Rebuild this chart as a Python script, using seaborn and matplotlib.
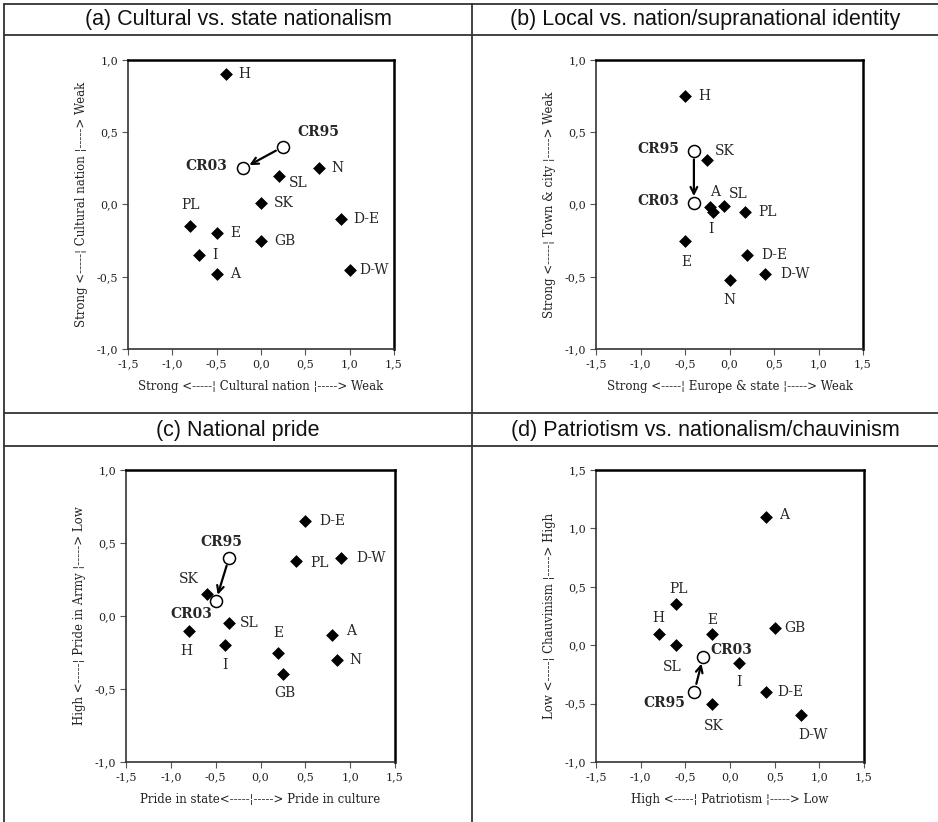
import matplotlib
matplotlib.use("Agg")
import matplotlib.pyplot as plt
from matplotlib.lines import Line2D
import seaborn as sns
import pandas as pd

sns.set_theme(style="white")
plt.rcParams['font.family'] = ['DejaVu Serif']

# ---------------- data ----------------
# (a) Cultural vs. state nationalism
a_countries = ["H", "SL", "N", "SK", "PL", "E", "GB", "D-E", "I", "A", "D-W"]
a_x = [-0.40, 0.20, 0.65, 0.00, -0.80, -0.50, 0.00, 0.90, -0.70, -0.50, 1.00]
a_y = [0.90, 0.20, 0.25, 0.01, -0.15, -0.20, -0.25, -0.10, -0.35, -0.48, -0.45]
a_cr95 = (0.25, 0.40)
a_cr03 = (-0.20, 0.25)

# (b) Local vs. nation/supranational identity
b_countries = ["H", "SK", "A", "I", "SL", "PL", "E", "D-E", "D-W", "N"]
b_x = [-0.50, -0.25, -0.22, -0.18, -0.06, 0.17, -0.50, 0.20, 0.40, 0.00]
b_y = [0.75, 0.31, -0.02, -0.05, -0.01, -0.05, -0.25, -0.35, -0.48, -0.52]
b_cr95 = (-0.40, 0.37)
b_cr03 = (-0.40, 0.01)

# (c) National pride
c_countries = ["D-E", "PL", "D-W", "SK", "SL", "H", "I", "E", "GB", "A", "N"]
c_x = [0.50, 0.40, 0.90, -0.60, -0.35, -0.80, -0.40, 0.20, 0.25, 0.80, 0.85]
c_y = [0.65, 0.38, 0.40, 0.15, -0.05, -0.10, -0.20, -0.25, -0.40, -0.13, -0.30]
c_cr95 = (-0.35, 0.40)
c_cr03 = (-0.50, 0.10)

# (d) Patriotism vs. nationalism/chauvinism
d_countries = ["A", "PL", "H", "E", "GB", "SL", "I", "D-E", "SK", "D-W"]
d_x = [0.40, -0.60, -0.80, -0.20, 0.50, -0.60, 0.10, 0.40, -0.20, 0.80]
d_y = [1.10, 0.35, 0.10, 0.10, 0.15, 0.00, -0.15, -0.40, -0.50, -0.60]
d_cr95 = (-0.40, -0.40)
d_cr03 = (-0.30, -0.10)

titles = ["(a) Cultural vs. state nationalism",
          "(b) Local vs. nation/supranational identity",
          "(c) National pride",
          "(d) Patriotism vs. nationalism/chauvinism"]
xlabels = ["Strong <-----\u00a6 Cultural nation \u00a6-----> Weak",
           "Strong <-----\u00a6 Europe & state \u00a6-----> Weak",
           "Pride in state<-----\u00a6-----> Pride in culture",
           "High <-----\u00a6 Patriotism \u00a6-----> Low"]
ylabels = ["Strong <-----\u00a6 Cultural nation \u00a6-----> Weak",
           "Strong <-----\u00a6 Town & city \u00a6-----> Weak",
           "High <-----\u00a6 Pride in Army \u00a6-----> Low",
           "Low <-----\u00a6 Chauvinism \u00a6-----> High"]
x_ticks = [-1.5, -1.0, -0.5, 0.0, 0.5, 1.0, 1.5]
y_ticks_abc = [-1.0, -0.5, 0.0, 0.5, 1.0]
y_ticks_d = [-1.0, -0.5, 0.0, 0.5, 1.0, 1.5]

# ------------- label placement (pixel offsets, alignment) -------------
a_off = {"H": (13, 0, "left"), "SL": (10, -7, "left"), "N": (13, 0, "left"),
         "SK": (13, 0, "left"), "PL": (0, 21, "center"), "E": (14, 0, "left"),
         "GB": (13, 0, "left"), "D-E": (12, 0, "left"), "I": (13, 0, "left"),
         "A": (13, 0, "left"), "D-W": (10, 0, "left"),
         "CR95": (14, 15, "left"), "CR03": (-16, 2, "right")}
b_off = {"H": (13, 0, "left"), "SK": (8, 9, "left"), "A": (5, 15, "center"),
         "I": (-3, -17, "center"), "SL": (5, 12, "left"), "PL": (14, 0, "left"),
         "E": (1, -21, "center"), "D-E": (14, 0, "left"), "D-W": (15, 0, "left"),
         "N": (0, -20, "center"),
         "CR95": (-15, 2, "right"), "CR03": (-15, 2, "right")}
c_off = {"D-E": (14, 0, "left"), "PL": (14, -2, "left"), "D-W": (15, 0, "left"),
         "SK": (-18, 15, "center"), "SL": (11, 0, "left"), "H": (-2, -20, "center"),
         "I": (0, -20, "center"), "E": (0, 20, "center"), "GB": (2, -19, "center"),
         "A": (14, 4, "left"), "N": (13, 0, "left"),
         "CR95": (-8, 16, "center"), "CR03": (-24, -13, "center")}
d_off = {"A": (13, 2, "left"), "PL": (2, 15, "center"), "H": (0, 16, "center"),
         "E": (0, 14, "center"), "GB": (10, 0, "left"), "SL": (-4, -22, "center"),
         "I": (0, -19, "center"), "D-E": (12, 0, "left"), "SK": (2, -22, "center"),
         "D-W": (12, -20, "center"),
         "CR95": (-9, -11, "right"), "CR03": (7, 7, "left")}

panels = [
    (a_countries, a_x, a_y, a_cr95, a_cr03, a_off, y_ticks_abc),
    (b_countries, b_x, b_y, b_cr95, b_cr03, b_off, y_ticks_abc),
    (c_countries, c_x, c_y, c_cr95, c_cr03, c_off, y_ticks_abc),
    (d_countries, d_x, d_y, d_cr95, d_cr03, d_off, y_ticks_d),
]

W, H = 938, 822
fig = plt.figure(figsize=(W / 100, H / 100), dpi=100)
fig.patch.set_facecolor("white")

# axes rectangles in pixels (left, top, right, bottom)
rects = [(128, 60, 394, 349), (596, 60, 863, 349),
         (126, 470, 395, 762), (596, 470, 864, 762)]


def fmt(v):
    return f"{v:.1f}".replace(".", ",")


for i, (names, xs, ys, cr95, cr03, off, yt) in enumerate(panels):
    l, t, r, b = rects[i]
    ax = fig.add_axes([l / W, 1 - b / H, (r - l) / W, (b - t) / H])
    df = pd.DataFrame({"x": xs, "y": ys, "name": names})
    sns.scatterplot(data=df, x="x", y="y", marker="D", s=36, color="black",
                    edgecolor="black", linewidth=0.5, ax=ax, zorder=3)
    cr = pd.DataFrame({"x": [cr95[0], cr03[0]], "y": [cr95[1], cr03[1]],
                       "name": ["CR95", "CR03"]})
    ax.annotate("", xy=cr03, xytext=cr95,
                arrowprops=dict(arrowstyle="->", color="black", lw=1.6,
                                shrinkA=6, shrinkB=5, mutation_scale=12),
                zorder=4)
    sns.scatterplot(data=cr, x="x", y="y", marker="o", s=75, color="white",
                    edgecolor="black", linewidth=1.1, ax=ax, zorder=5)
    for _, row in df.iterrows():
        dx, dy, ha = off[row["name"]]
        ax.annotate(row["name"], (row["x"], row["y"]), xytext=(dx, dy),
                    textcoords="offset pixels", ha=ha, va="center",
                    fontsize=10, family="DejaVu Serif")
    for _, row in cr.iterrows():
        dx, dy, ha = off[row["name"]]
        ax.annotate(row["name"], (row["x"], row["y"]), xytext=(dx, dy),
                    textcoords="offset pixels", ha=ha, va="center",
                    fontsize=10, fontweight="bold", family="DejaVu Serif")

    ax.set_xlim(-1.5, 1.5)
    ax.set_ylim(yt[0], yt[-1])
    ax.set_xticks(x_ticks)
    ax.set_xticklabels([fmt(v) for v in x_ticks], fontsize=8)
    ax.set_yticks(yt)
    ax.set_yticklabels([fmt(v) for v in yt], fontsize=8)
    ax.tick_params(axis="both", direction="out", length=4, width=0.8,
                   color="#555555", pad=3, labelcolor="#222222")
    ax.tick_params(axis="x", bottom=True)
    ax.tick_params(axis="y", left=True)
    ax.set_xlabel(xlabels[i], fontsize=8.5, labelpad=8, color="#222222")
    ax.set_ylabel(ylabels[i], fontsize=8.5, labelpad=6, color="#222222")
    for side in ["top", "right"]:
        ax.spines[side].set_linewidth(1.8)
        ax.spines[side].set_color("black")
    for side in ["left", "bottom"]:
        ax.spines[side].set_linewidth(1.2)
        ax.spines[side].set_color("#333333")
    ax.grid(False)

    # panel title
    cx = (4 + 472) / 2 if i % 2 == 0 else (472 + 938) / 2
    cy = 20 if i < 2 else 430
    fig.text(cx / W, 1 - cy / H, titles[i], ha="center", va="center",
             fontsize=15.5, family="Liberation Sans", color="#111111")

# table lines
def hline(y, x0=4, x1=938):
    fig.add_artist(Line2D([x0 / W, x1 / W], [1 - y / H, 1 - y / H],
                          color="#333333", lw=1.3))

def vline(x, y0=4, y1=822):
    fig.add_artist(Line2D([x / W, x / W], [1 - y0 / H, 1 - y1 / H],
                          color="#333333", lw=1.3))

for yy in (4, 35, 413, 446):
    hline(yy)
vline(4)
vline(472)

fig.savefig("out.png", dpi=100, facecolor="white")
